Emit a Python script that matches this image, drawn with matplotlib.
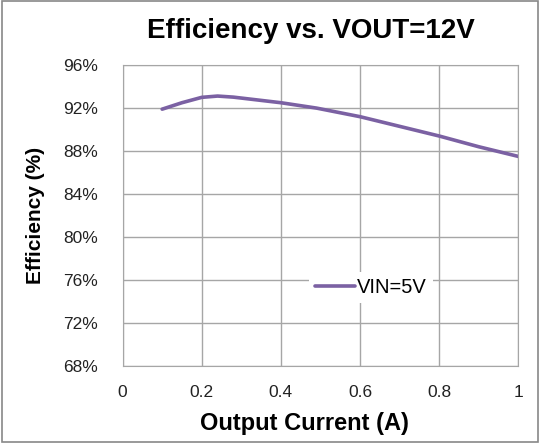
import numpy as np
import matplotlib.pyplot as plt
from matplotlib.patches import Rectangle

plt.rcParams["font.family"] = ["Liberation Sans", "DejaVu Sans"]

# --------- data ---------
current_a = [0.10, 0.15, 0.20, 0.24, 0.28, 0.40, 0.49, 0.60, 0.70, 0.80, 0.90, 1.00]
eff_pct = [91.9, 92.5, 93.0, 93.12, 93.02, 92.5, 92.0, 91.2, 90.3, 89.4, 88.4, 87.5]
series_label = "VIN=5V"
x_ticks = [0, 0.2, 0.4, 0.6, 0.8, 1.0]
x_tick_labels = ["0", "0.2", "0.4", "0.6", "0.8", "1"]
y_ticks = [68, 72, 76, 80, 84, 88, 92, 96]

fig = plt.figure(figsize=(5.4, 4.43), dpi=100)
ax = fig.add_axes([0.227, 0.174, 0.733, 0.679])

ax.plot(current_a, eff_pct, color="#7B61A3", lw=2.6, label=series_label,
        solid_capstyle="round", solid_joinstyle="round")

ax.set_xlim(0, 1)
ax.set_ylim(68, 96)
ax.set_xticks(x_ticks)
ax.set_xticklabels(x_tick_labels)
ax.set_yticks(y_ticks)
ax.set_yticklabels([f"{v}%" for v in y_ticks])
ax.tick_params(length=0, labelsize=12.5, colors="#222222")
ax.tick_params(axis="y", pad=18)
ax.tick_params(axis="x", pad=14)
ax.grid(color="#a6a6a6", lw=1)
ax.set_axisbelow(True)
for s in ax.spines.values():
    s.set_color("#a6a6a6")

fig.text(0.576, 0.93, "Efficiency vs. VOUT=12V", fontsize=20, fontweight="bold",
         ha="center", va="center")
ax.set_xlabel("Output Current (A)", fontsize=17, fontweight="bold")
ax.xaxis.set_label_coords(0.46, -0.152)
ax.set_ylabel("Efficiency (%)", fontsize=15, fontweight="bold")
ax.yaxis.set_label_coords(-0.195, 0.5)

leg = ax.legend(loc="center left", bbox_to_anchor=(0.445, 0.262), frameon=True,
                fontsize=14.5, handlelength=2.0, handletextpad=0.1,
                borderpad=0.3, fancybox=False)
leg.get_frame().set_edgecolor("none")
leg.get_frame().set_facecolor("white")
leg.get_frame().set_alpha(1)

# outer chart border
fig.patches.append(Rectangle((0.003, 0.003), 0.994, 0.994, transform=fig.transFigure,
                             fill=False, edgecolor="#888888", lw=1.2))

fig.savefig("out.png", dpi=100)
